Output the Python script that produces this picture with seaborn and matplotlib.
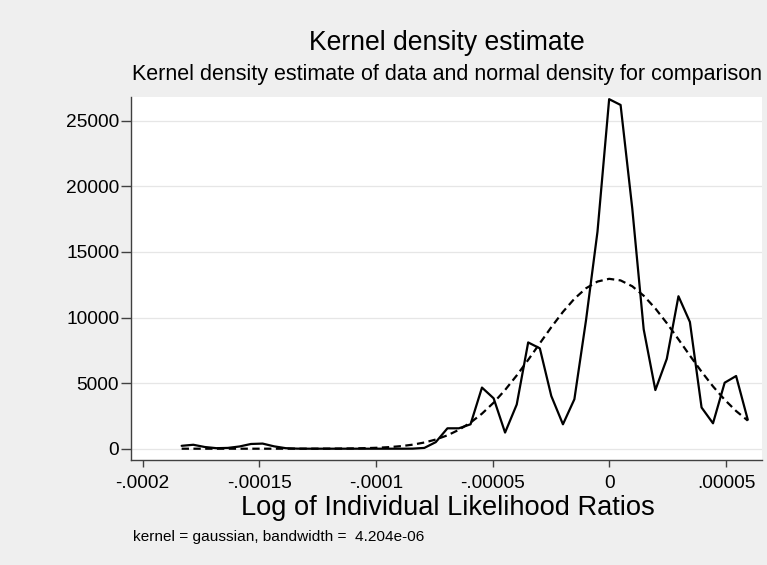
import matplotlib
matplotlib.use("Agg")
import matplotlib.pyplot as plt
import seaborn as sns
import pandas as pd

# ---- data ----
x_values = [-0.0001833, -0.0001783, -0.0001734, -0.0001684, -0.0001635, -0.0001585,
            -0.0001536, -0.0001486, -0.0001437, -0.0001387, -0.0001338, -0.0001288,
            -0.0001239, -0.0001189, -0.0001140, -0.0001090, -0.0001041, -0.0000991,
            -0.0000942, -0.0000892, -0.0000843, -0.0000793, -0.0000744, -0.0000694,
            -0.0000645, -0.0000595, -0.0000546, -0.0000496, -0.0000447, -0.0000397,
            -0.0000348, -0.0000298, -0.0000249, -0.0000199, -0.0000150, -0.0000100,
            -0.0000051, -0.0000001, 0.0000048, 0.0000098, 0.0000147, 0.0000197,
            0.0000246, 0.0000296, 0.0000345, 0.0000395, 0.0000444, 0.0000494,
            0.0000543, 0.0000593]

kernel_density = [220, 300, 130, 40, 60, 170, 360, 390, 180, 40,
                  5, 0, 0, 0, 0, 0, 0, 0, 0, 0,
                  5, 60, 500, 1555, 1555, 1860, 4660, 3840, 1230, 3370,
                  8100, 7650, 4020, 1860, 3770, 9810, 16540, 26640, 26200, 18320,
                  9100, 4470, 6850, 11620, 9660, 3140, 1936, 5030, 5540, 2210]

normal_density = [0, 0, 0, 0, 0, 0, 0, 0, 0, 0.5,
                  1.1, 2.2, 4.1, 7.8, 14, 25, 44, 74, 122, 197,
                  307, 472, 699, 1019, 1438, 1990, 2671, 3509, 4474, 5586,
                  6770, 8034, 9258, 10429, 11428, 12229, 12740, 12948, 12826, 12381,
                  11660, 10690, 9573, 8336, 7097, 5869, 4751, 3734, 2872, 2143]

x_ticks = [-0.0002, -0.00015, -0.0001, -0.00005, 0.0, 0.00005]
x_tick_labels = ["-.0002", "-.00015", "-.0001", "-.00005", "0", ".00005"]
y_ticks = [0, 5000, 10000, 15000, 20000, 25000]
y_tick_labels = ["0", "5000", "10000", "15000", "20000", "25000"]

title_text = "Kernel density estimate"
subtitle_text = "Kernel density estimate of data and normal density for comparison"
xlabel_text = "Log of Individual Likelihood Ratios"
note_text = "kernel = gaussian, bandwidth =  4.204e-06"

df = pd.DataFrame({"x": x_values, "kde": kernel_density, "normal": normal_density})

# ---- styling ----
sns.set_style("white")
plt.rcParams["font.family"] = ["Liberation Sans", "DejaVu Sans"]

BG = "#EFEFEF"
W, H = 767, 565
fig = plt.figure(figsize=(W / 100, H / 100), dpi=100, facecolor=BG)

left_px, right_px, top_px, bottom_px = 131, 762, 97, 460
ax = fig.add_axes([left_px / W, 1 - bottom_px / H,
                   (right_px - left_px) / W, (bottom_px - top_px) / H])
ax.set_facecolor("white")

sns.lineplot(data=df, x="x", y="kde", ax=ax, color="black", linewidth=1.6,
             estimator=None, sort=False)
sns.lineplot(data=df, x="x", y="normal", ax=ax, color="black", linewidth=1.6,
             estimator=None, sort=False)
ax.lines[1].set_dashes([3.3, 2.0])

ax.set_xlim(-0.000205, 0.0000654)
ax.set_ylim(-861, 26806)

ax.set_xticks(x_ticks)
ax.set_xticklabels(x_tick_labels)
ax.set_yticks(y_ticks)
ax.set_yticklabels(y_tick_labels)

ax.yaxis.grid(True, color="#E6E6E6", linewidth=0.9)
ax.xaxis.grid(False)
ax.set_axisbelow(True)

for side in ["top", "right"]:
    ax.spines[side].set_visible(False)
for side in ["left", "bottom"]:
    ax.spines[side].set_color("#404040")
    ax.spines[side].set_linewidth(1.0)

ax.tick_params(axis="y", direction="out", length=7, width=1.0, color="#404040",
               pad=1.5, labelsize=13.8, labelcolor="black", left=True)
ax.tick_params(axis="x", direction="out", length=5, width=1.0, color="#404040",
               pad=5.8, labelsize=13.8, labelcolor="black", bottom=True)

ax.set_ylabel("")
ax.set_xlabel(xlabel_text, fontsize=19.6, color="black")
ax.xaxis.label.set_verticalalignment("baseline")
ax.xaxis.set_label_coords((448 - left_px) / (right_px - left_px),
                          (bottom_px - 515) / (bottom_px - top_px))

cx = (left_px + right_px) / 2 / W
fig.text(cx, 1 - 49.5 / H, title_text, ha="center", va="baseline",
         fontsize=19.1, color="black")
fig.text(cx, 1 - 80 / H, subtitle_text, ha="center", va="baseline",
         fontsize=15.5, color="black")
fig.text(133 / W, 1 - 541 / H, note_text, ha="left", va="baseline",
         fontsize=11.1, color="black")

fig.savefig("out.png", dpi=100, facecolor=BG)
